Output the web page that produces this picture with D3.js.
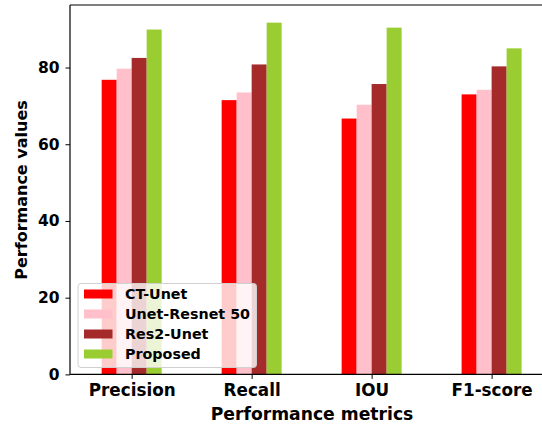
<!DOCTYPE html>
<html>
<head>
<meta charset="utf-8">
<script src="https://cdn.jsdelivr.net/npm/d3@7"></script>
<style>
  html, body { margin: 0; padding: 0; background: #fff; }
  svg { display: block; font-family: "DejaVu Sans", sans-serif; font-weight: bold; }
</style>
</head>
<body>
<svg id="chart" width="542" height="425"></svg>
<script>
// Segmentation scores per metric for each model
const metrics = ["Precision", "Recall", "IOU", "F1-score"];
const models = ["CT-Unet", "Unet-Resnet 50", "Res2-Unet", "Proposed"];
const ctUnet = [76.8, 71.5, 66.7, 73.0];
const unetResnet50 = [79.7, 73.5, 70.3, 74.2];
const res2Unet = [82.5, 80.8, 75.7, 80.3];
const proposed = [89.9, 91.7, 90.4, 85.0];
const yTicks = [0, 20, 40, 60, 80];
const colors = ["#ff0000", "#ffc0cb", "#a52a2a", "#9acd32"];

const series = [ctUnet, unetResnet50, res2Unet, proposed];

const svg = d3.select("#chart");
const plotLeft = 70, plotTop = 5, plotBottom = 374.4, plotRight = 560;

// Category index -> tick position; bars sit at index + offset
const x = d3.scaleLinear().domain([-0.514, 3.57]).range([plotLeft, plotRight]);
const y = d3.scaleLinear().domain([0, 96.3]).range([plotBottom, plotTop]);
const barW = 0.125;
const offsets = [-2, -1, 0, 1].map(k => k * barW);

const g = svg.append("g");

series.forEach((vals, si) => {
  g.selectAll(null)
    .data(vals)
    .enter()
    .append("rect")
    .attr("x", (d, i) => x(i + offsets[si]))
    .attr("width", x(barW) - x(0))
    .attr("y", d => y(d))
    .attr("height", d => y(0) - y(d))
    .attr("fill", colors[si]);
});

// Axes
const xAxis = d3.axisBottom(x)
  .tickValues(metrics.map((m, i) => i))
  .tickFormat(i => metrics[i])
  .tickSize(4.5)
  .tickPadding(5.2);
const yAxis = d3.axisLeft(y)
  .tickValues(yTicks)
  .tickSize(4.5)
  .tickPadding(6);

const gx = svg.append("g").attr("transform", `translate(0,${plotBottom})`).call(xAxis);
const gy = svg.append("g").attr("transform", `translate(${plotLeft},0)`).call(yAxis);

[gx, gy].forEach(a => {
  a.select(".domain").remove();
  a.selectAll(".tick line").attr("stroke", "#000").attr("stroke-width", 1);
  a.selectAll(".tick text")
    .attr("fill", "#000")
    .style("font-family", "DejaVu Sans")
    .style("font-weight", "bold");
});
gx.selectAll(".tick text").style("font-size", "16.8px");
gy.selectAll(".tick text").style("font-size", "15.5px");

// Spines (left, bottom, top)
svg.append("line").attr("x1", plotLeft).attr("x2", plotLeft).attr("y1", plotTop).attr("y2", plotBottom)
  .attr("stroke", "#000").attr("stroke-width", 1.2);
svg.append("line").attr("x1", plotLeft).attr("x2", 542).attr("y1", plotBottom).attr("y2", plotBottom)
  .attr("stroke", "#000").attr("stroke-width", 1.2);
svg.append("line").attr("x1", plotLeft).attr("x2", 542).attr("y1", plotTop).attr("y2", plotTop)
  .attr("stroke", "#000").attr("stroke-width", 1.2);

// Axis titles
svg.append("text")
  .attr("x", 312).attr("y", 420)
  .attr("text-anchor", "middle")
  .style("font-size", "17.2px")
  .text("Performance metrics");
svg.append("text")
  .attr("transform", "translate(27,190) rotate(-90)")
  .attr("text-anchor", "middle")
  .style("font-size", "16px")
  .text("Performance values");

// Legend
const lg = svg.append("g").attr("transform", "translate(78,283.5)");
lg.append("rect")
  .attr("width", 178.5).attr("height", 84)
  .attr("rx", 3)
  .attr("fill", "#fff").attr("fill-opacity", 0.8)
  .attr("stroke", "#d0d0d0").attr("stroke-width", 1);
models.forEach((m, i) => {
  const row = lg.append("g").attr("transform", `translate(6,${10.5 + i * 20})`);
  row.append("rect")
    .attr("x", 0).attr("y", -4.5)
    .attr("width", 28.5).attr("height", 9)
    .attr("fill", colors[i]);
  row.append("text")
    .attr("x", 41).attr("y", 0)
    .attr("dy", "0.35em")
    .style("font-size", "14.3px")
    .text(m);
});
</script>
</body>
</html>
